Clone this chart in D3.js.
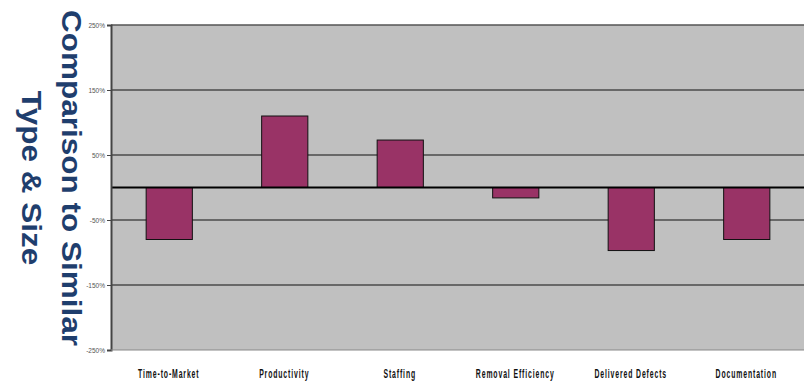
<!DOCTYPE html>
<html>
<head>
<meta charset="utf-8">
<script src="https://cdn.jsdelivr.net/npm/d3@7"></script>
<style>
  html, body { margin: 0; padding: 0; background: #fff; }
  svg { display: block; }
</style>
</head>
<body>
<svg id="chart" width="804" height="381"></svg>
<script>
// Percent difference versus projects of similar type and size
const categories = ["Time-to-Market", "Productivity", "Staffing", "Removal Efficiency", "Delivered Defects", "Documentation"];
const values = [-80, 110, 73, -16, -97, -80];
const tickValues = [250, 150, 50, -50, -150, -250];
const titleLines = ["Comparison to Similar", "Type & Size"];

const svg = d3.select("#chart");
const plot = { left: 111, right: 804, top: 25, bottom: 350 };

const x = d3.scaleBand()
  .domain(categories)
  .range([plot.left, plot.right])
  .paddingInner(0.6)
  .paddingOuter(0.3);

const y = d3.scaleLinear()
  .domain([-250, 250])
  .range([plot.bottom, plot.top]);

// Plot background
svg.append("rect")
  .attr("x", plot.left).attr("y", plot.top)
  .attr("width", plot.right - plot.left).attr("height", plot.bottom - plot.top)
  .attr("fill", "#c0c0c0");

// Horizontal gridlines
svg.append("g")
  .selectAll("line")
  .data(tickValues.filter(v => v !== -250))
  .join("line")
  .attr("x1", plot.left).attr("x2", plot.right)
  .attr("y1", d => y(d)).attr("y2", d => y(d))
  .attr("stroke", d => d === 250 ? "#555" : "#111")
  .attr("stroke-width", d => d === 250 ? 1.5 : 1);

// Bars
svg.append("g")
  .selectAll("rect")
  .data(categories.map((c, i) => ({ c, v: values[i] })))
  .join("rect")
  .attr("x", d => x(d.c) + 0.5)
  .attr("y", d => Math.min(y(d.v), y(0)))
  .attr("width", x.bandwidth())
  .attr("height", d => Math.abs(y(d.v) - y(0)))
  .attr("fill", "#993366")
  .attr("stroke", "#111")
  .attr("stroke-width", 1);

// Zero line
svg.append("line")
  .attr("x1", plot.left).attr("x2", plot.right)
  .attr("y1", y(0)).attr("y2", y(0))
  .attr("stroke", "#000")
  .attr("stroke-width", 2);

// Y axis
const yAxis = d3.axisLeft(y)
  .tickValues(tickValues)
  .tickSize(4)
  .tickPadding(2)
  .tickFormat(d => d + "%");

const gy = svg.append("g")
  .attr("transform", `translate(${plot.left},0)`)
  .call(yAxis);
gy.select(".domain").attr("stroke", "#444").attr("stroke-width", 2);
gy.selectAll(".tick line").attr("stroke", "#444");
gy.selectAll(".tick text")
  .attr("font-family", "'Liberation Sans Narrow', 'Arial Narrow', sans-serif")
  .attr("font-size", 6.5)
  .attr("fill", "#555");

// Bottom border of plot
svg.append("line")
  .attr("x1", plot.left).attr("x2", plot.right)
  .attr("y1", plot.bottom).attr("y2", plot.bottom)
  .attr("stroke", "#888").attr("stroke-width", 1);

// Category labels (tall, condensed, spaced lettering)
svg.append("g")
  .selectAll("g")
  .data(categories)
  .join("g")
  .attr("transform", d => `translate(${x(d) + x.bandwidth() / 2},378) scale(0.55,1)`)
  .append("text")
  .attr("text-anchor", "middle")
  .attr("font-family", "'Liberation Sans Narrow', 'Arial Narrow', sans-serif")
  .attr("font-weight", "bold")
  .attr("font-size", 12.5)
  .attr("letter-spacing", 1.6)
  .attr("fill", "#111")
  .text(d => d);

// Vertical title, reading top to bottom
const titleX = [62, 22];
svg.append("g")
  .selectAll("g")
  .data(titleLines)
  .join("g")
  .attr("transform", (d, i) => `translate(${titleX[i]},178) rotate(90) scale(1,0.85)`)
  .append("text")
  .attr("text-anchor", "middle")
  .attr("font-family", "'Liberation Sans', Arial, sans-serif")
  .attr("font-weight", "bold")
  .attr("font-size", 31.5)
  .attr("fill", "#1f3e6d")
  .text(d => d);
</script>
</body>
</html>
